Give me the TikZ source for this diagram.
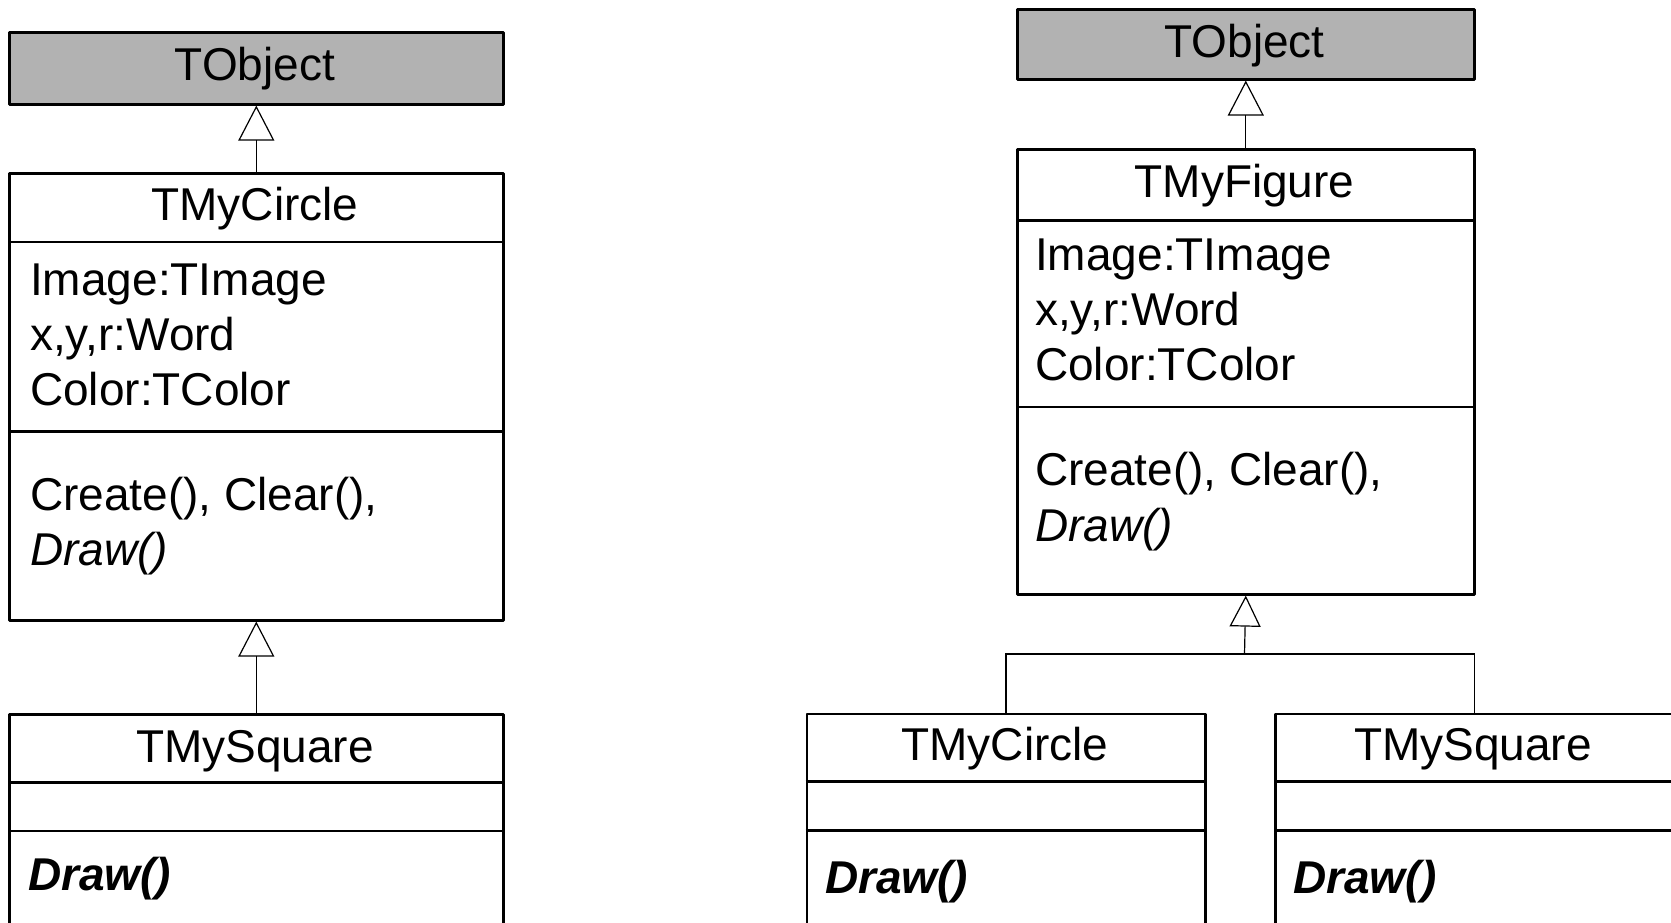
\documentclass[tikz,border=0pt]{standalone}
\usepackage{fontspec}
\setmainfont{Liberation Sans}
\usetikzlibrary{arrows.meta}
\definecolor{objgray}{RGB}{178,178,178}
\begin{document}
\begin{tikzpicture}[x=1pt,y=-1pt,
  box/.style={draw, line width=2.6pt, line join=round, inner sep=0pt, anchor=north west},
  sepline/.style={line width=2.6pt},
  lbl/.style={font=\fontsize{46}{55}\selectfont, inner sep=0pt},
  cname/.style={lbl, anchor=base},
  member/.style={lbl, anchor=base west},
  link/.style={line width=1.2pt},
  inh/.style={line width=1.2pt, -{Triangle[open, length=35pt, width=36pt, line width=1.2pt]}}]
\path[use as bounding box, clip] (0,0) rectangle (1671,922);
\fill[white] (0,0) rectangle (1671,922);

% ---------- left diagram ----------
\node[box, fill=objgray, minimum width=494pt, minimum height=72pt] (lobj) at (8,31) {};
\node[box, minimum width=494pt, minimum height=447pt] (lcirc) at (8,172) {};
\draw[sepline] (8,242) -- (502,242);
\draw[sepline] (8,431.5) -- (502,431.5);
\node[box, minimum width=494pt, minimum height=260pt] (lsq) at (8,713) {};
\draw[sepline] (8,782.5) -- (502,782.5);
\draw[sepline] (8,831) -- (502,831);

\node[cname] (tlobj) at (255,80) {TObject};
\node[cname] (tlcirc) at (255,220) {TMyCircle};
\node[member] (la1) at (30,295) {Image:TImage};
\node[member] (la2) at (30,350) {x,y,r:Word};
\node[member] (la3) at (30,405) {Color:TColor};
\node[member] (lm1) at (30,510) {Create(), Clear(),};
\node[member] (lm2) at (30,565) {\itshape Draw()};
\node[cname] (tlsq) at (255,762) {TMySquare};
\node[member] (lsqm) at (28,890) {\bfseries\itshape Draw()};

\draw[inh] (lcirc.north) -- (lobj.south);
\draw[inh] (lsq.north) -- (lcirc.south);

% ---------- right diagram ----------
\node[box, fill=objgray, minimum width=457pt, minimum height=70pt] (robj) at (1016,8) {};
\node[box, minimum width=457pt, minimum height=445pt] (rfig) at (1016,148) {};
\draw[sepline] (1016,220.5) -- (1473,220.5);
\draw[sepline] (1016,407) -- (1473,407);
\node[box, minimum width=398.5pt, minimum height=260pt] (rcirc) at (805.5,712.5) {};
\draw[sepline] (805.5,781.5) -- (1204,781.5);
\draw[sepline] (805.5,830.5) -- (1204,830.5);
\node[box, minimum width=398.5pt, minimum height=260pt] (rsq) at (1274,712.5) {};
\draw[sepline] (1274,781.5) -- (1672.5,781.5);
\draw[sepline] (1274,830.5) -- (1672.5,830.5);

\node[cname] (trobj) at (1244.5,57) {TObject};
\node[cname] (trfig) at (1244.5,197) {TMyFigure};
\node[member] (ra1) at (1035,270) {Image:TImage};
\node[member] (ra2) at (1035,325) {x,y,r:Word};
\node[member] (ra3) at (1035,380) {Color:TColor};
\node[member] (rm1) at (1035,485) {Create(), Clear(),};
\node[member] (rm2) at (1035,541) {\itshape Draw()};
\node[cname] (trcirc) at (1005,760) {TMyCircle};
\node[cname] (trsq) at (1473,760) {TMySquare};
\node[member] (rcm) at (825,893) {\bfseries\itshape Draw()};
\node[member] (rsm) at (1293,893) {\bfseries\itshape Draw()};

\draw[inh] (rfig.north) -- (robj.south);
\coordinate (j) at (1244.5,654);
\draw[line width=1.2pt, -{Triangle[open, length=31pt, width=31pt, line width=1.2pt]}] (j) -- (rfig.south);
\draw[link] (rcirc.north) |- (j);
\draw[link] (rsq.north) |- (j);
\end{tikzpicture}
\end{document}
